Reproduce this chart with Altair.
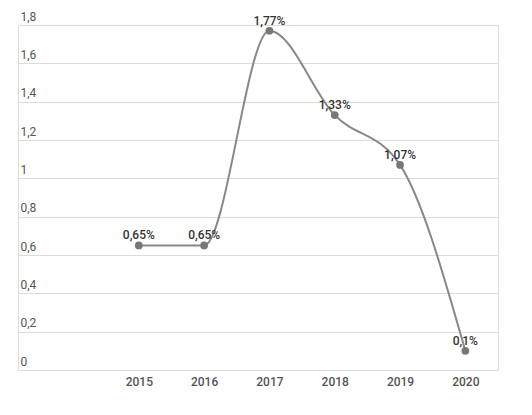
import altair as alt
import pandas as pd

years = [2015, 2016, 2017, 2018, 2019, 2020]
values = [0.65, 0.65, 1.77, 1.33, 1.07, 0.1]
labels = ["0,65%", "0,65%", "1,77%", "1,33%", "1,07%", "0,1%"]

df = pd.DataFrame({"year": years, "value": values, "label": labels})

x = alt.X("year:Q", scale=alt.Scale(domain=[2013.15, 2020.5], nice=False, zero=False),
          axis=alt.Axis(values=years, format="d", grid=False, domain=False, ticks=False,
                        labelFontSize=12, labelFontWeight=500, labelColor="#555",
                        labelPadding=6, labelFont="Roboto"),
          title=None)
y = alt.Y("value:Q", scale=alt.Scale(domain=[0, 1.8], nice=False),
          axis=alt.Axis(values=[0, 0.2, 0.4, 0.6, 0.8, 1.0, 1.2, 1.4, 1.6, 1.8],
                        format="~g", labelExpr="replace(datum.label, '.', ',')",
                        domain=False, ticks=False, tickSize=0, labelAlign="left",
                        labelBaseline="alphabetic", labelPadding=-2, labelOffset=-5,
                        labelFontSize=12, labelColor="#555", labelFont="Roboto",
                        gridColor="#dcdcdc", gridWidth=1),
          title=None)

base = alt.Chart(df)
line = base.mark_line(interpolate="monotone", color="#888", strokeWidth=2).encode(x=x, y=y)
pts = base.mark_circle(color="#777", size=60, opacity=1).encode(x=x, y=y)
txt = base.mark_text(dy=-10, fontSize=12, fontWeight=500, color="#333", font="Roboto").encode(
    x=x, y=y, text="label:N")

chart = (line + pts + txt).properties(
    width=480, height=345,
    autosize=alt.AutoSizeParams(type="none"),
    padding={"left": 10, "top": 17, "right": 20, "bottom": 30},
).configure_view(stroke=None).configure(background="white")

chart.save("out.html", embed_options={"renderer": "svg", "actions": False})
